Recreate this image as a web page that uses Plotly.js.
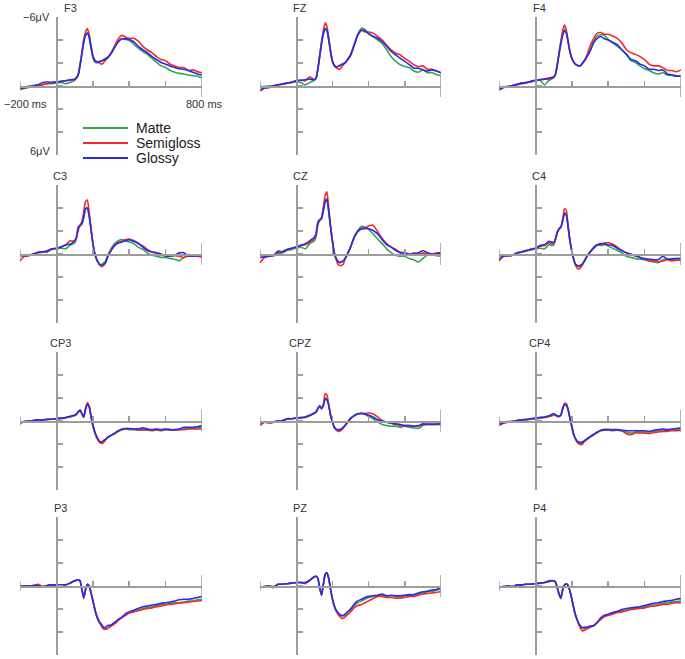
<!DOCTYPE html>
<html>
<head>
<meta charset="utf-8">
<script src="https://cdn.plot.ly/plotly-3.0.1.min.js"></script>
<style>html,body{margin:0;padding:0;background:#fff;}#chart{width:685px;height:659px;}</style>
</head>
<body>
<div id="chart"></div>
<script>
// ---- time axis (ms) ----
const T = [-200,-175,-150,-125,-100,-75,-50,-25,0,25,50,75,100,
  110,120,130,140,150,160,170,180,190,200,210,220,230,240,250,260,270,280,
  300,320,340,360,380,400,
  425,450,475,500,525,550,575,600,625,650,675,700,725,750,775,800];

const CHANNELS = ['F3','FZ','F4','C3','CZ','C4','CP3','CPZ','CP4','P3','PZ','P4'];
const CONDITIONS = ['Matte','Semigloss','Glossy'];
const TICK_LABELS_X = ['\u2212200 ms','800 ms'];
const TICK_LABELS_Y = ['\u22126\u03bcV','6\u03bcV'];

// ---- amplitudes (µV), negative plotted upward ----
const F3_MATTE = [0.2,0.1,0,-0.05,-0.1,-0.15,-0.2,-0.2,-0.25,-0.3,-0.2,-0.3,-0.5,
 -0.65,-0.95,-1.8,-2.8,-3.8,-4.4,-4.6,-4.2,-3.3,-2.5,-2.1,-2.0,-2.05,-2.1,-2.2,-2.3,-2.4,-2.5,
 -2.85,-3.4,-3.85,-4.1,-4.05,-3.95,
 -3.65,-3.3,-3.0,-2.75,-2.4,-2.05,-1.75,-1.6,-1.35,-1.2,-1.1,-1.05,-0.95,-0.9,-0.85,-0.7];
const F3_SEMI = [0.3,0.2,0.1,0,-0.05,-0.1,-0.2,-0.3,-0.35,-0.4,-0.45,-0.5,-0.6,
 -0.7,-1.0,-1.9,-2.9,-4.0,-4.7,-5.0,-4.5,-3.5,-2.7,-2.3,-2.15,-2.05,-1.95,-1.9,-2.05,-2.25,-2.4,
 -2.85,-3.5,-4.1,-4.4,-4.25,-4.15,
 -4.15,-3.9,-3.45,-3.15,-2.9,-2.55,-2.3,-2.2,-1.9,-1.75,-1.6,-1.6,-1.35,-1.4,-1.25,-1.15];
const F3_GLOSSY = [0.25,0.15,0.1,0,-0.1,-0.3,-0.35,-0.3,-0.35,-0.4,-0.45,-0.55,-0.55,
 -0.75,-1.0,-1.8,-2.8,-3.8,-4.4,-4.6,-4.3,-3.4,-2.6,-2.2,-2.1,-2.1,-2.15,-2.2,-2.25,-2.35,-2.45,
 -2.8,-3.35,-3.85,-4.1,-4.1,-4.05,
 -3.85,-3.45,-3.15,-2.9,-2.55,-2.3,-2.05,-1.9,-1.75,-1.6,-1.5,-1.45,-1.35,-1.2,-1.05,-0.95];

const FZ_MATTE = [0.05,0.05,0,-0.05,-0.1,-0.15,-0.25,-0.3,-0.35,-0.3,-0.1,-0.3,-0.5,
 -0.65,-1.45,-2.6,-3.7,-4.5,-4.95,-4.8,-3.95,-2.95,-2.15,-1.8,-1.65,-1.7,-1.8,-1.9,-1.95,-2.05,-2.25,
 -2.75,-3.6,-4.5,-5.0,-4.9,-4.55,
 -4.3,-4.0,-3.7,-3.15,-2.55,-2.15,-1.85,-1.7,-1.6,-1.3,-1.2,-1.4,-1.15,-1.15,-1.0,-0.9];
const FZ_SEMI = [0.45,0.2,0.15,0,-0.1,-0.15,-0.25,-0.3,-0.45,-0.5,-0.45,-0.8,-0.55,
 -0.7,-1.55,-2.7,-3.85,-4.85,-5.5,-5.15,-4.15,-3.0,-2.15,-1.75,-1.6,-1.5,-1.45,-1.6,-1.85,-2.0,-2.2,
 -2.65,-3.55,-4.45,-4.85,-4.7,-4.7,
 -4.6,-4.3,-4.0,-3.55,-3.15,-2.85,-2.7,-2.4,-2.15,-1.85,-1.7,-1.75,-1.45,-1.45,-1.3,-1.15];
const FZ_GLOSSY = [0.35,0.15,0.1,0,-0.1,-0.2,-0.25,-0.35,-0.45,-0.5,-0.55,-0.6,-0.55,
 -0.7,-1.5,-2.6,-3.7,-4.55,-5.0,-4.85,-4.0,-3.0,-2.2,-1.8,-1.65,-1.7,-1.75,-1.85,-1.9,-2.0,-2.2,
 -2.65,-3.5,-4.4,-4.85,-4.8,-4.55,
 -4.3,-4.15,-3.85,-3.45,-3.0,-2.7,-2.4,-2.15,-1.85,-1.55,-1.55,-1.4,-1.3,-1.4,-1.3,-1.15];

const F4_MATTE = [0.1,0.05,0.05,-0.05,-0.1,-0.2,-0.25,-0.35,-0.45,-0.5,-0.1,-0.5,-0.7,
 -0.95,-1.75,-2.8,-3.75,-4.5,-4.9,-4.65,-3.8,-2.95,-2.4,-2.1,-1.9,-1.8,-1.75,-1.8,-2.0,-2.2,-2.5,
 -3.1,-3.9,-4.35,-4.45,-4.4,-4.05,
 -3.75,-3.45,-3.15,-2.75,-2.2,-2.05,-1.75,-1.5,-1.35,-1.15,-1.05,-1.15,-0.95,-0.95,-0.9,-0.9];
const F4_SEMI = [0.35,0.15,0.05,0,-0.15,-0.25,-0.3,-0.4,-0.5,-0.55,-0.6,-0.6,-0.8,
 -1.05,-1.9,-2.9,-3.9,-4.85,-5.3,-4.85,-3.9,-3.0,-2.45,-2.1,-1.9,-1.8,-1.75,-1.8,-2.05,-2.25,-2.55,
 -3.45,-4.15,-4.6,-4.65,-4.5,-4.5,
 -4.35,-4.15,-3.75,-3.15,-2.9,-2.75,-2.55,-2.3,-1.9,-1.75,-1.75,-1.6,-1.35,-1.35,-1.25,-1.4];
const F4_GLOSSY = [0.3,0.1,0.05,-0.05,-0.15,-0.25,-0.3,-0.4,-0.5,-0.55,-0.6,-0.7,-0.8,
 -1.0,-1.8,-2.8,-3.7,-4.4,-4.8,-4.6,-3.8,-2.95,-2.4,-2.1,-1.9,-1.8,-1.75,-1.8,-2.0,-2.2,-2.45,
 -3.0,-3.75,-4.15,-4.3,-4.1,-4.0,
 -3.8,-3.6,-3.15,-2.75,-2.3,-2.2,-1.9,-1.75,-1.45,-1.45,-1.35,-1.4,-1.05,-0.95,-0.85,-0.85];

const C3_MATTE = [0.1,0.15,0.1,0,-0.1,-0.15,-0.2,-0.4,-0.45,-0.5,-0.45,-0.75,-0.95,
 -1.35,-2.2,-2.45,-2.6,-3.15,-3.9,-4.0,-3.3,-2.15,-0.95,-0.05,0.45,0.75,0.9,0.9,0.75,0.6,0.2,
 -0.45,-0.9,-1.15,-1.25,-1.15,-1.05,
 -0.9,-0.6,-0.4,-0.1,0.1,0.2,0.3,0.3,0.4,0.45,0.6,0.3,0.2,0.15,0.15,0.2];
const C3_SEMI = [0.6,0.2,0.15,0,-0.15,-0.2,-0.3,-0.45,-0.5,-0.6,-0.75,-1.15,-1.1,
 -1.45,-2.05,-2.5,-2.8,-3.65,-4.55,-4.7,-3.65,-2.2,-1.0,-0.1,0.4,0.75,1.0,1.1,1.0,0.75,0.3,
 -0.3,-0.75,-1.0,-1.1,-1.25,-1.3,
 -1.15,-0.95,-0.7,-0.4,-0.15,-0.1,0.1,0.15,0.2,0.15,0.2,0.3,0.15,0.15,0.2,0.3];
const C3_GLOSSY = [0.15,0.15,0.1,0,-0.15,-0.2,-0.2,-0.45,-0.5,-0.6,-0.8,-0.85,-1.15,
 -1.45,-2.35,-2.5,-2.65,-3.2,-3.95,-4.0,-3.35,-2.2,-1.0,-0.1,0.4,0.75,0.95,0.95,0.9,0.75,0.3,
 -0.3,-0.75,-0.95,-1.05,-1.15,-1.25,
 -1.1,-0.9,-0.6,-0.3,-0.2,-0.1,0,0.2,0.15,0.1,-0.1,-0.1,0.15,0.2,0.15,0.1];

const CZ_MATTE = [0.15,0.15,0.15,0.15,0,-0.1,-0.3,-0.4,-0.5,-0.6,-0.45,-0.9,-1.15,
 -1.5,-2.55,-2.9,-3.05,-3.75,-4.5,-4.75,-3.6,-2.3,-1.1,-0.1,0.35,0.6,0.75,0.65,0.6,0.4,0.1,
 -0.55,-1.4,-2.05,-2.4,-2.35,-2.15,
 -1.75,-1.3,-0.9,-0.45,-0.1,0.1,0.2,0.2,0.4,0.5,0.7,0.4,0.1,0,0.15,0.2];
const CZ_SEMI = [0.75,0.3,0.2,0.15,-0.1,-0.2,-0.4,-0.5,-0.6,-0.75,-0.8,-1.0,-1.3,
 -1.75,-2.65,-2.9,-3.2,-4.1,-5.1,-5.4,-3.95,-2.35,-1.15,-0.1,0.45,0.9,1.0,1.0,0.9,0.45,0.1,
 -0.6,-1.45,-1.95,-2.15,-2.2,-2.45,
 -2.5,-1.95,-1.35,-0.9,-0.6,-0.4,-0.15,-0.1,0.1,-0.1,0,-0.1,0,0,-0.1,-0.1];
const CZ_GLOSSY = [0.3,0.25,0.2,0.1,-0.25,-0.2,-0.4,-0.5,-0.6,-0.75,-0.9,-1.15,-1.45,
 -1.8,-2.8,-3.0,-3.1,-3.8,-4.55,-4.8,-3.65,-2.35,-1.15,-0.15,0.35,0.6,0.75,0.7,0.6,0.4,0.1,
 -0.6,-1.45,-1.95,-2.25,-2.25,-2.2,
 -2.05,-1.75,-1.25,-0.8,-0.6,-0.3,-0.1,-0.1,0,0,-0.1,-0.3,-0.1,0,0,-0.1];

const C4_MATTE = [0.15,0.2,0.15,0.1,-0.05,-0.15,-0.25,-0.35,-0.45,-0.5,-0.45,-0.8,-0.75,
 -1.2,-1.8,-2.15,-2.3,-2.9,-3.6,-3.45,-2.3,-1.1,-0.25,0.45,0.9,1.05,1.1,1.0,0.85,0.55,0.25,
 -0.2,-0.6,-0.8,-0.75,-0.8,-0.7,
 -0.5,-0.3,-0.1,0.2,0.3,0.4,0.45,0.5,0.6,0.7,0.75,0.5,0.45,0.4,0.4,0.4];
const C4_SEMI = [0.6,0.2,0.15,0.1,-0.1,-0.2,-0.3,-0.4,-0.5,-0.65,-0.75,-0.95,-0.9,
 -1.3,-1.9,-2.2,-2.35,-3.05,-3.95,-3.8,-2.35,-1.15,-0.3,0.45,0.95,1.25,1.3,1.15,0.9,0.6,0.3,
 -0.15,-0.5,-0.8,-0.8,-0.95,-1.0,
 -0.85,-0.6,-0.3,-0.1,0.1,0.15,0.3,0.45,0.6,0.6,0.7,0.6,0.5,0.6,0.55,0.55];
const C4_GLOSSY = [0.45,0.2,0.15,0.1,-0.1,-0.2,-0.3,-0.4,-0.5,-0.75,-0.8,-1.1,-1.0,
 -1.3,-1.9,-2.2,-2.35,-2.9,-3.5,-3.35,-2.35,-1.15,-0.3,0.4,0.9,1.0,1.05,0.95,0.85,0.6,0.3,
 -0.15,-0.5,-0.8,-0.9,-0.9,-0.8,
 -0.75,-0.5,-0.3,-0.1,0,0.15,0.3,0.4,0.45,0.5,0.5,0.2,0.45,0.45,0.4,0.4];

const CP3_MATTE = [0.1,0.05,0,-0.05,-0.1,-0.1,-0.1,-0.15,-0.15,-0.2,-0.25,-0.35,-0.45,
 -0.55,-0.75,-0.9,-0.6,-0.3,-1.0,-1.45,-1.25,-0.4,0.35,0.95,1.35,1.65,1.85,1.85,1.75,1.6,1.45,
 1.25,1.1,0.9,0.75,0.7,0.75,
 0.75,0.8,0.8,0.8,0.85,0.8,0.85,0.75,0.8,0.8,0.75,0.7,0.6,0.6,0.6,0.55];
const CP3_SEMI = [0.25,0.05,0,-0.05,-0.1,-0.1,-0.15,-0.15,-0.2,-0.25,-0.3,-0.4,-0.5,
 -0.6,-0.8,-0.95,-0.65,-0.35,-1.1,-1.6,-1.3,-0.4,0.4,0.95,1.4,1.7,1.9,1.95,1.85,1.65,1.45,
 1.25,1.1,0.9,0.75,0.7,0.7,
 0.7,0.75,0.75,0.75,0.8,0.75,0.8,0.75,0.75,0.8,0.75,0.75,0.7,0.7,0.7,0.7];
const CP3_GLOSSY = [0.1,0.05,0,-0.05,-0.1,-0.1,-0.15,-0.15,-0.2,-0.25,-0.3,-0.4,-0.5,
 -0.6,-0.8,-0.95,-0.65,-0.35,-1.0,-1.45,-1.25,-0.45,0.3,0.9,1.3,1.6,1.8,1.8,1.7,1.6,1.45,
 1.25,1.05,0.85,0.7,0.65,0.65,
 0.7,0.7,0.6,0.7,0.75,0.7,0.75,0.7,0.75,0.75,0.7,0.55,0.55,0.55,0.5,0.4];

const CPZ_MATTE = [0.1,0.05,0.1,0.05,0,-0.05,-0.15,-0.2,-0.25,-0.25,-0.3,-0.45,-0.65,
 -0.75,-1.05,-1.25,-1.05,-1.3,-1.95,-1.85,-1.3,-0.45,0.1,0.55,0.75,0.8,0.75,0.7,0.55,0.35,0.15,
 -0.25,-0.5,-0.65,-0.7,-0.6,-0.4,
 -0.2,0.1,0.3,0.4,0.45,0.45,0.55,0.45,0.55,0.6,0.65,0.4,0.3,0.25,0.3,0.3];
const CPZ_SEMI = [0.4,0.1,0.15,0.1,0,-0.05,-0.2,-0.2,-0.25,-0.3,-0.35,-0.5,-0.7,
 -0.8,-1.1,-1.3,-1.1,-1.45,-2.4,-2.25,-1.4,-0.5,0.1,0.55,0.75,0.9,0.9,0.8,0.6,0.4,0.2,
 -0.2,-0.45,-0.6,-0.65,-0.65,-0.7,
 -0.6,-0.35,-0.05,0.1,0.2,0.3,0.4,0.4,0.4,0.45,0.45,0.3,0.25,0.3,0.25,0.3];
const CPZ_GLOSSY = [0.2,0.1,0.15,0.1,0,-0.05,-0.2,-0.2,-0.25,-0.3,-0.35,-0.5,-0.7,
 -0.8,-1.1,-1.35,-1.1,-1.35,-1.95,-1.85,-1.35,-0.5,0.05,0.5,0.7,0.75,0.75,0.7,0.55,0.4,0.2,
 -0.2,-0.45,-0.6,-0.65,-0.6,-0.5,
 -0.35,-0.1,0,0.1,0.2,0.25,0.3,0.4,0.4,0.45,0.4,0.25,0.3,0.3,0.3,0.2];

const CP4_MATTE = [0.1,0.1,0.05,0,-0.05,-0.1,-0.1,-0.15,-0.2,-0.25,-0.3,-0.4,-0.5,
 -0.5,-0.4,-0.4,-0.5,-1.05,-1.45,-1.4,-0.95,-0.2,0.5,1.15,1.55,1.85,1.95,1.95,1.9,1.75,1.6,
 1.4,1.2,1.0,0.85,0.8,0.8,
 0.85,0.8,0.85,0.95,1.05,0.95,0.95,0.95,0.95,0.9,0.85,0.8,0.8,0.75,0.75,0.75];
const CP4_SEMI = [0.4,0.2,0.1,0.05,-0.05,-0.1,-0.1,-0.2,-0.2,-0.3,-0.3,-0.4,-0.5,
 -0.5,-0.4,-0.4,-0.5,-1.1,-1.55,-1.5,-1.0,-0.2,0.55,1.2,1.55,1.85,2.0,2.05,2.0,1.75,1.65,
 1.4,1.2,1.0,0.8,0.75,0.75,
 0.8,0.8,0.85,1.1,1.2,1.05,1.05,1.05,1.1,1.0,0.95,0.9,0.9,0.85,0.85,0.8];
const CP4_GLOSSY = [0.3,0.15,0.1,0.05,-0.05,-0.1,-0.15,-0.2,-0.25,-0.3,-0.35,-0.45,-0.65,
 -0.55,-0.45,-0.4,-0.55,-1.1,-1.4,-1.4,-1.0,-0.25,0.45,1.1,1.5,1.75,1.85,1.85,1.8,1.7,1.6,
 1.35,1.15,0.95,0.8,0.75,0.75,
 0.75,0.75,0.8,0.85,0.85,0.85,0.85,0.85,0.9,0.8,0.75,0.7,0.75,0.7,0.65,0.6];

const P3_MATTE = [0.05,0,0,-0.05,-0.05,0.05,-0.05,-0.1,-0.1,-0.1,-0.1,-0.25,-0.45,
 -0.5,-0.55,-0.45,0.35,1.1,0.35,-0.1,0,0.6,1.25,1.95,2.55,2.95,3.25,3.5,3.7,3.75,3.7,
 3.45,3.2,2.95,2.75,2.5,2.3,
 2.2,2.1,1.95,1.9,1.8,1.7,1.6,1.6,1.5,1.45,1.45,1.4,1.3,1.3,1.2,1.15];
const P3_SEMI = [0.05,0,0,-0.05,-0.15,0.05,-0.05,-0.1,-0.1,-0.1,-0.1,-0.25,-0.45,
 -0.5,-0.55,-0.45,0.3,1.0,0.3,-0.15,0,0.6,1.3,2.0,2.6,3.0,3.3,3.55,3.75,3.75,3.7,
 3.5,3.3,3.0,2.75,2.55,2.35,
 2.25,2.15,2.05,1.95,1.9,1.8,1.75,1.65,1.6,1.55,1.5,1.45,1.4,1.35,1.3,1.25];
const P3_GLOSSY = [0,0,0,-0.05,-0.05,0.1,-0.05,-0.1,-0.1,-0.1,-0.1,-0.25,-0.45,
 -0.5,-0.55,-0.45,0.3,1.0,0.3,-0.15,0,0.55,1.2,1.9,2.5,2.9,3.2,3.4,3.6,3.6,3.45,
 3.4,3.15,2.9,2.7,2.4,2.25,
 2.1,1.95,1.8,1.75,1.65,1.6,1.5,1.45,1.4,1.3,1.2,1.15,1.15,1.1,1.0,0.9];

const PZ_MATTE = [0.1,0.05,0,0.05,-0.15,-0.15,-0.2,-0.25,-0.3,-0.3,-0.25,-0.5,-0.8,
 -0.85,-0.65,0.15,0.8,-0.15,-1.0,-1.15,-0.65,0.3,1.1,1.7,2.1,2.35,2.55,2.6,2.6,2.55,2.35,
 2.05,1.7,1.45,1.3,1.15,1.0,
 0.9,0.85,0.8,0.9,0.85,0.9,0.95,0.85,0.8,0.8,0.7,0.6,0.5,0.45,0.35,0.3];
const PZ_SEMI = [0.15,0.05,0,0.05,-0.15,-0.15,-0.2,-0.25,-0.3,-0.3,-0.2,-0.5,-0.8,
 -0.85,-0.65,0.15,0.8,-0.15,-1.0,-1.15,-0.65,0.3,1.15,1.75,2.15,2.45,2.65,2.8,2.8,2.7,2.55,
 2.25,1.9,1.7,1.6,1.45,1.3,
 1.1,0.9,0.9,1.0,1.0,1.05,1.05,1.0,0.9,0.9,0.8,0.7,0.65,0.6,0.55,0.5];
const PZ_GLOSSY = [0.1,0.05,0,0.15,-0.15,-0.15,-0.2,-0.25,-0.3,-0.3,-0.3,-0.5,-0.8,
 -0.85,-0.65,0.15,0.8,-0.15,-1.0,-1.15,-0.65,0.3,1.1,1.7,2.1,2.3,2.45,2.55,2.55,2.45,2.3,
 2.0,1.6,1.3,1.15,1.0,0.9,
 0.85,0.8,0.7,0.85,0.8,0.85,0.85,0.8,0.75,0.75,0.6,0.5,0.45,0.35,0.3,0.1];

const P4_MATTE = [0.1,0.05,0,0.05,-0.1,-0.1,-0.15,-0.15,-0.2,-0.25,-0.3,-0.4,-0.45,
 -0.35,0.15,0.75,1.1,0.35,-0.05,-0.15,-0.05,0.45,1.1,1.85,2.5,2.95,3.35,3.6,3.7,3.7,3.6,
 3.5,3.45,3.2,2.8,2.6,2.5,
 2.4,2.25,2.15,2.1,2.0,1.95,1.9,1.8,1.75,1.65,1.6,1.5,1.45,1.4,1.35,1.3];
const P4_SEMI = [0.15,0.05,0,0.05,-0.1,-0.1,-0.15,-0.15,-0.2,-0.25,-0.3,-0.4,-0.45,
 -0.35,0.15,0.7,1.0,0.3,-0.1,-0.15,-0.05,0.45,1.15,1.9,2.55,3.0,3.4,3.75,3.9,3.85,3.75,
 3.6,3.45,3.15,2.9,2.65,2.55,
 2.45,2.3,2.25,2.15,2.05,2.0,1.95,1.9,1.8,1.75,1.7,1.6,1.6,1.5,1.45,1.45];
const P4_GLOSSY = [0.15,0.05,0,0.05,-0.1,-0.1,-0.15,-0.15,-0.2,-0.25,-0.3,-0.45,-0.45,
 -0.35,0.15,0.7,1.05,0.3,-0.1,-0.2,-0.05,0.45,1.1,1.85,2.5,2.95,3.3,3.5,3.6,3.6,3.6,
 3.5,3.45,3.15,2.75,2.55,2.45,
 2.3,2.2,2.05,1.95,1.9,1.85,1.8,1.7,1.6,1.5,1.45,1.35,1.3,1.25,1.15,1.1];

// table built from the named arrays
const SERIES = {
  F3:[F3_MATTE,F3_SEMI,F3_GLOSSY], FZ:[FZ_MATTE,FZ_SEMI,FZ_GLOSSY], F4:[F4_MATTE,F4_SEMI,F4_GLOSSY],
  C3:[C3_MATTE,C3_SEMI,C3_GLOSSY], CZ:[CZ_MATTE,CZ_SEMI,CZ_GLOSSY], C4:[C4_MATTE,C4_SEMI,C4_GLOSSY],
  CP3:[CP3_MATTE,CP3_SEMI,CP3_GLOSSY], CPZ:[CPZ_MATTE,CPZ_SEMI,CPZ_GLOSSY], CP4:[CP4_MATTE,CP4_SEMI,CP4_GLOSSY],
  P3:[P3_MATTE,P3_SEMI,P3_GLOSSY], PZ:[PZ_MATTE,PZ_SEMI,PZ_GLOSSY], P4:[P4_MATTE,P4_SEMI,P4_GLOSSY]
};

// ---- styling / layout constants ----
const W = 685, H = 659;
const COLORS = ['#2ea84e','#f42a2a','#2a2ae8'];
const AXIS = '#9c9c9c';
const FONT = 'Arial, "Liberation Sans", sans-serif';
const X_RANGE = [-200, 800];
const Y_RANGE = [6, -6];
const COLS_PX = [[20,202],[260,441],[499,681]];
const ROWS_PX = [[17,155],[185,323],[352,490],[517,655]];

const traces = [];
const layout = {
  width: W, height: H,
  margin: {l:0, r:0, t:0, b:0},
  paper_bgcolor: '#fff', plot_bgcolor: 'rgba(0,0,0,0)',
  showlegend: false,
  font: {family: FONT, color: '#333'},
  shapes: [], annotations: []
};

const zeroFrac = (0 - X_RANGE[0]) / (X_RANGE[1] - X_RANGE[0]);

CHANNELS.forEach((ch, i) => {
  const r = Math.floor(i / 3), c = i % 3, n = i + 1;
  const s = n === 1 ? '' : String(n);
  const [x0, x1] = COLS_PX[c];
  const [top, bot] = ROWS_PX[r];
  const xd = [x0 / W, x1 / W];
  const yd = [1 - bot / H, 1 - top / H];
  layout['xaxis' + s] = {
    domain: xd, range: X_RANGE, anchor: 'free', position: (yd[0] + yd[1]) / 2,
    showline: true, linecolor: AXIS, linewidth: 1.5,
    ticks: 'inside', tickvals: [200, 400, 600], ticklen: 5, tickwidth: 1.5, tickcolor: AXIS,
    showticklabels: false, showgrid: false, zeroline: false, fixedrange: true
  };
  layout['yaxis' + s] = {
    domain: yd, range: Y_RANGE, anchor: 'free', position: xd[0] + zeroFrac * (xd[1] - xd[0]),
    showline: true, linecolor: AXIS, linewidth: 1.5,
    ticks: 'inside', tickvals: [-6, -4, -2, 0, 2, 4, 6], ticklen: 5, tickwidth: 1.5, tickcolor: AXIS,
    showticklabels: false, showgrid: false, zeroline: false, fixedrange: true
  };
  // end ticks on the time axis
  layout.shapes.push({type:'line', xref:'x'+s, yref:'y'+s, x0:X_RANGE[1], x1:X_RANGE[1], y0:-0.95, y1:0.95,
    line:{color:AXIS, width:1.5}});
  layout.shapes.push({type:'line', xref:'x'+s, yref:'y'+s, x0:X_RANGE[0], x1:X_RANGE[0], y0:-0.4, y1:0.4,
    line:{color:AXIS, width:1.5}});
  // channel label
  layout.annotations.push({xref:'x'+s, yref:'y'+s, x:0, y:-6, text:ch, showarrow:false,
    xanchor:'center', yanchor:'middle', xshift: i === 0 ? 14 : 4, yshift: 9,
    font:{family:FONT, size:11, color:'#333'}});
  SERIES[ch].forEach((vals, k) => {
    traces.push({
      x: T, y: vals, xaxis: 'x' + s, yaxis: 'y' + s, type: 'scatter', mode: 'lines',
      name: CONDITIONS[k], hoverinfo: 'skip',
      line: {color: COLORS[k], width: 1.6, shape: 'spline', smoothing: 0.5}
    });
  });
});

// F3 scale labels
layout.annotations.push(
  {xref:'x', yref:'y', x:0, y:-6, text:TICK_LABELS_Y[0], showarrow:false, xanchor:'right', yanchor:'middle', xshift:-4,
   font:{family:FONT, size:11, color:'#333'}},
  {xref:'x', yref:'y', x:0, y:6, text:TICK_LABELS_Y[1], showarrow:false, xanchor:'right', yanchor:'middle', xshift:-4, yshift:4,
   font:{family:FONT, size:11, color:'#333'}},
  {xref:'x', yref:'y', x:X_RANGE[0], y:0, text:TICK_LABELS_X[0], showarrow:false, xanchor:'center', yanchor:'middle', xshift:5, yshift:-18,
   font:{family:FONT, size:11, color:'#333'}},
  {xref:'x', yref:'y', x:X_RANGE[1], y:0, text:TICK_LABELS_X[1], showarrow:false, xanchor:'center', yanchor:'middle', xshift:2, yshift:-18,
   font:{family:FONT, size:11, color:'#333'}}
);

// legend (drawn inside the F3 panel)
const LEG_Y = [128, 143, 158];
CONDITIONS.forEach((name, k) => {
  layout.shapes.push({type:'line', xref:'paper', yref:'paper', x0:83/W, x1:128/W, y0:1-LEG_Y[k]/H, y1:1-LEG_Y[k]/H,
    line:{color:COLORS[k], width:1.8}});
  layout.annotations.push({xref:'paper', yref:'paper', x:134/W, y:1-LEG_Y[k]/H, text:name, showarrow:false,
    xanchor:'left', yanchor:'middle', font:{family:FONT, size:14, color:'#222'}});
});

Plotly.newPlot('chart', traces, layout, {displayModeBar:false, staticPlot:true});
</script>
</body>
</html>
